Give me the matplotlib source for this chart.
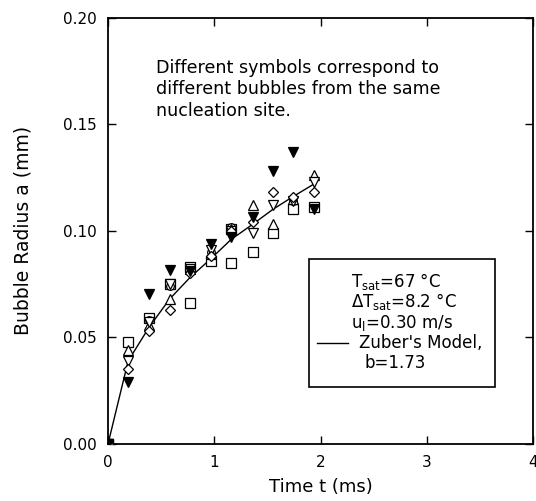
import matplotlib
matplotlib.use('Agg')
import matplotlib.pyplot as plt
from matplotlib.patches import Rectangle

# Measurement times (ms)
times = [0, 0.19, 0.39, 0.58, 0.77, 0.97, 1.16, 1.36, 1.55, 1.74, 1.94]

# Bubble radius (mm) for each bubble / symbol
tri_up_a = [0, 0.044, 0.056, 0.068, 0.082, 0.089, 0.101, 0.112, 0.103, 0.115, 0.126]
tri_down_a = [0, 0.039, 0.057, 0.075, 0.082, 0.091, 0.100, 0.099, 0.112, 0.114, 0.123]
diamond_a = [0, 0.035, 0.053, 0.063, 0.080, 0.088, 0.100, 0.104, 0.118, 0.116, 0.118]
filled_a = [0, 0.029, 0.0705, 0.0815, 0.081, 0.094, 0.097, 0.1065, 0.128, 0.137, 0.110]

# Two bubbles drawn with squares, not sampled at every time
sq1_t = [0, 0.19, 0.39, 0.58, 0.77, 0.97, 1.16]
sq1_a = [0, 0.048, 0.059, 0.075, 0.083, 0.086, 0.101]
sq2_t = [0, 0.77, 1.16, 1.36, 1.55, 1.74, 1.94]
sq2_a = [0, 0.066, 0.085, 0.090, 0.099, 0.110, 0.111]

# Open circles hidden inside the clusters
circ_t = [0, 0.39, 0.58, 0.97, 1.16, 1.74]
circ_a = [0, 0.058, 0.074, 0.090, 0.102, 0.114]

# Zuber's model curve (b = 1.73)
model_a = [0, 0.039, 0.055, 0.068, 0.078, 0.087, 0.096, 0.103, 0.110, 0.116, 0.122]

annotation = [
    'Different symbols correspond to',
    'different bubbles from the same',
    'nucleation site.',
]


def main():
    fig = plt.figure(figsize=(5.36, 5.01), dpi=100)
    ax = fig.add_axes([0.2015, 0.1138, 0.7929, 0.851])

    ms = 7.5
    mew = 0.9
    ax.plot(times, model_a, color='black', lw=1.0, zorder=2)

    ax.plot(sq1_t, sq1_a, 's', ms=ms - 1, mfc='white', mec='black', mew=mew, zorder=3)
    ax.plot(sq2_t, sq2_a, 's', ms=ms - 1, mfc='white', mec='black', mew=mew, zorder=3)
    ax.plot(circ_t, circ_a, 'o', ms=ms - 2, mfc='white', mec='black', mew=mew, zorder=3)
    ax.plot(times, tri_up_a, '^', ms=ms, mfc='white', mec='black', mew=mew, zorder=3)
    ax.plot(times, tri_down_a, 'v', ms=ms, mfc='white', mec='black', mew=mew, zorder=3)
    ax.plot(times, diamond_a, 'D', ms=ms - 2, mfc='white', mec='black', mew=mew, zorder=3)
    ax.plot(times, filled_a, 'v', ms=ms, mfc='black', mec='black', mew=mew, zorder=4)

    ax.set_xlim(0, 4)
    ax.set_ylim(0, 0.20)
    ax.set_xticks([0, 1, 2, 3, 4])
    ax.set_yticks([0, 0.05, 0.10, 0.15, 0.20])
    ax.set_yticklabels(['0.00', '0.05', '0.10', '0.15', '0.20'])
    ax.tick_params(direction='in', top=True, right=True, length=6, width=1,
                   labelsize=11, pad=8)
    for s in ax.spines.values():
        s.set_linewidth(1.3)

    ax.set_xlabel('Time t (ms)', fontsize=13, labelpad=6)
    ax.set_ylabel('Bubble Radius a (mm)', fontsize=13.5, labelpad=22)

    # Note in the upper part of the plot
    for i, line in enumerate(annotation):
        ax.text(0.114, 0.883 - i * 0.0505, line, transform=ax.transAxes,
                fontsize=12.6, va='center', ha='left')

    # Boxed legend with the conditions
    box = Rectangle((0.474, 0.1325), 0.436, 0.3025, transform=ax.transAxes,
                    fill=False, ec='black', lw=1.2, zorder=5)
    ax.add_patch(box)
    fs = 12
    ax.text(0.5715, 0.382, r'T$_{\rm sat}$=67 °C', transform=ax.transAxes,
            fontsize=fs, va='center')
    ax.text(0.5715, 0.3336, r'$\Delta$T$_{\rm sat}$=8.2 °C', transform=ax.transAxes,
            fontsize=fs, va='center')
    ax.text(0.5715, 0.283, r'u$_{\rm l}$=0.30 m/s', transform=ax.transAxes,
            fontsize=fs, va='center')
    ax.plot([0.4916, 0.5636], [0.2377, 0.2377], color='black', lw=1.0,
            transform=ax.transAxes, clip_on=False)
    ax.text(0.5915, 0.2377, "Zuber's Model,", transform=ax.transAxes,
            fontsize=fs, va='center')
    ax.text(0.6035, 0.189, 'b=1.73', transform=ax.transAxes,
            fontsize=fs, va='center')

    fig.savefig('out.png', dpi=100)


if __name__ == '__main__':
    main()
